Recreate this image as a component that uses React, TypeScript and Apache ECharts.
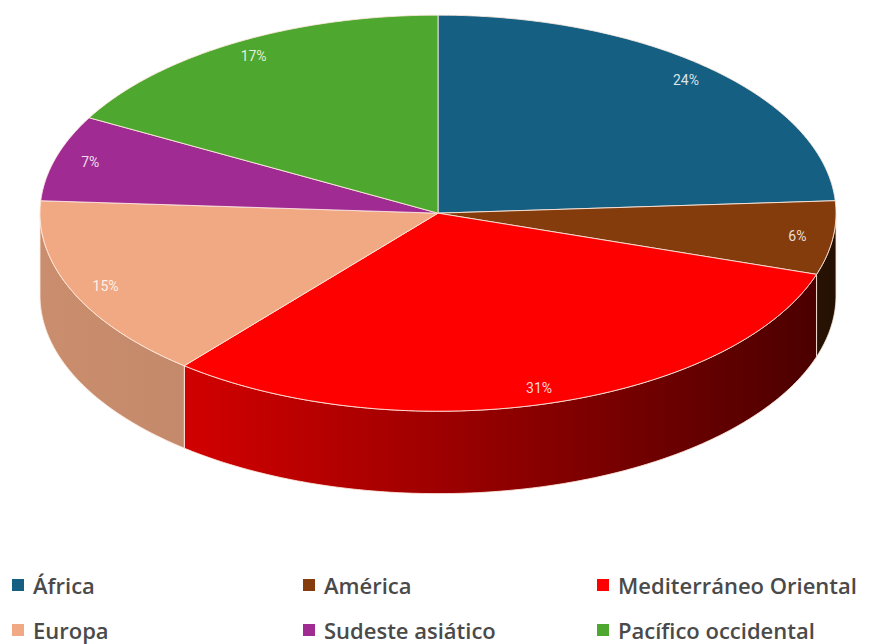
import React, { useEffect, useRef } from "react";
import * as echarts from "echarts";

const regions = ["África", "América", "Mediterráneo Oriental", "Europa", "Sudeste asiático", "Pacífico occidental"];
const shares = [24, 6, 31, 15, 7, 17];
const colors = ["#156082", "#843C0C", "#FF0000", "#F1A983", "#A02B93", "#4EA72E"];

function shade(hex: string, f: number) {
  const n = parseInt(hex.slice(1), 16);
  const r = Math.round(((n >> 16) & 255) * f);
  const g = Math.round(((n >> 8) & 255) * f);
  const b = Math.round((n & 255) * f);
  return `rgb(${r},${g},${b})`;
}

export default function App() {
  const ref = useRef<HTMLDivElement>(null);
  useEffect(() => {
    if (!ref.current) return;
    const chart = echarts.init(ref.current, null, { renderer: "svg" });
    const total = shares.reduce((a, b) => a + b, 0);

    const makeRender = (i: number) => (params: any, api: any) => {
      const W = api.getWidth();
      const H = api.getHeight();
      const cx = W * 0.4983;
      const cy = H * 0.331;
      const rx = W * 0.4528;
      const ry = H * 0.3075;
      const depth = H * 0.128;
      const before = shares.slice(0, i).reduce((a, b) => a + b, 0);
      const start = (before / total) * 360;
      const end = start + (api.value(0) / total) * 360;
      const rad = (d: number) => (d * Math.PI) / 180;
      const pt = (d: number, dy = 0) => [cx + rx * Math.sin(rad(d)), cy - ry * Math.cos(rad(d)) + dy];
      const arc = (a: number, b: number, dy = 0) => {
        const pts: number[][] = [];
        const n = Math.max(2, Math.ceil(Math.abs(b - a) / 0.5));
        for (let k = 0; k <= n; k++) pts.push(pt(a + ((b - a) * k) / n, dy));
        return pts;
      };
      const children: any[] = [];
      const a = Math.max(start, 90);
      const b = Math.min(end, 270);
      if (a < b) {
        const side = [...arc(a, b), ...arc(b, a, depth)];
        children.push({
          type: "polygon",
          z2: 1,
          shape: { points: side },
          style: {
            fill: new echarts.graphic.LinearGradient(
              cx - rx, 0, cx + rx, 0,
              [
                { offset: 0, color: shade(colors[i], 0.84) },
                { offset: 0.2, color: shade(colors[i], 0.81) },
                { offset: 0.5, color: shade(colors[i], 0.62) },
                { offset: 1, color: shade(colors[i], 0.28) },
              ],
              true
            ),
            stroke: "rgba(255,235,225,0.85)",
            lineWidth: 1,
          },
        });
      }
      const top = [[cx, cy], ...arc(start, end)];
      children.push({
        type: "polygon",
        z2: 2,
        shape: { points: top },
        style: { fill: colors[i], stroke: "rgba(255,235,225,0.85)", lineWidth: 1 },
      });
      const mid = (start + end) / 2;
      const lp = [cx + rx * 0.91 * Math.sin(rad(mid)), cy - ry * 0.92 * Math.cos(rad(mid))];
      children.push({
        type: "text",
        z2: 3,
        style: {
          text: `${api.value(0)}%`,
          x: lp[0],
          y: lp[1],
          fill: "rgba(255,255,255,0.85)",
          fontSize: 14,
          fontFamily: "Roboto",
          align: "center",
          verticalAlign: "middle",
          textAlign: "center",
          textVerticalAlign: "middle",
        },
      });
      return { type: "group", children };
    };

    const legendBase = {
      orient: "vertical" as const,
      top: 573,
      height: 100,
      padding: 0,
      itemGap: 21,
      itemWidth: 12,
      itemHeight: 12,
      icon: "rect",
      selectedMode: false,
      textStyle: {
        fontFamily: "Open Sans",
        fontWeight: 600,
        fontSize: 22,
        lineHeight: 24,
        color: "#4a4a4a",
        padding: [0, 0, 0, 4],
      },
    };

    chart.setOption({
      animation: false,
      backgroundColor: "#ffffff",
      legend: [
        { ...legendBase, left: 12, data: [regions[0], regions[3]] },
        { ...legendBase, left: 303, data: [regions[1], regions[4]] },
        { ...legendBase, left: 597, data: [regions[2], regions[5]] },
      ],
      series: regions.map((name, i) => ({
        type: "custom",
        name,
        coordinateSystem: "none",
        itemStyle: { color: colors[i] },
        renderItem: makeRender(i),
        data: [[shares[i]]],
      })),
    });
    return () => chart.dispose();
  }, []);
  return <div ref={ref} style={{ position: "absolute", left: 0, top: 0, width: 879, height: 644 }} />;
}
